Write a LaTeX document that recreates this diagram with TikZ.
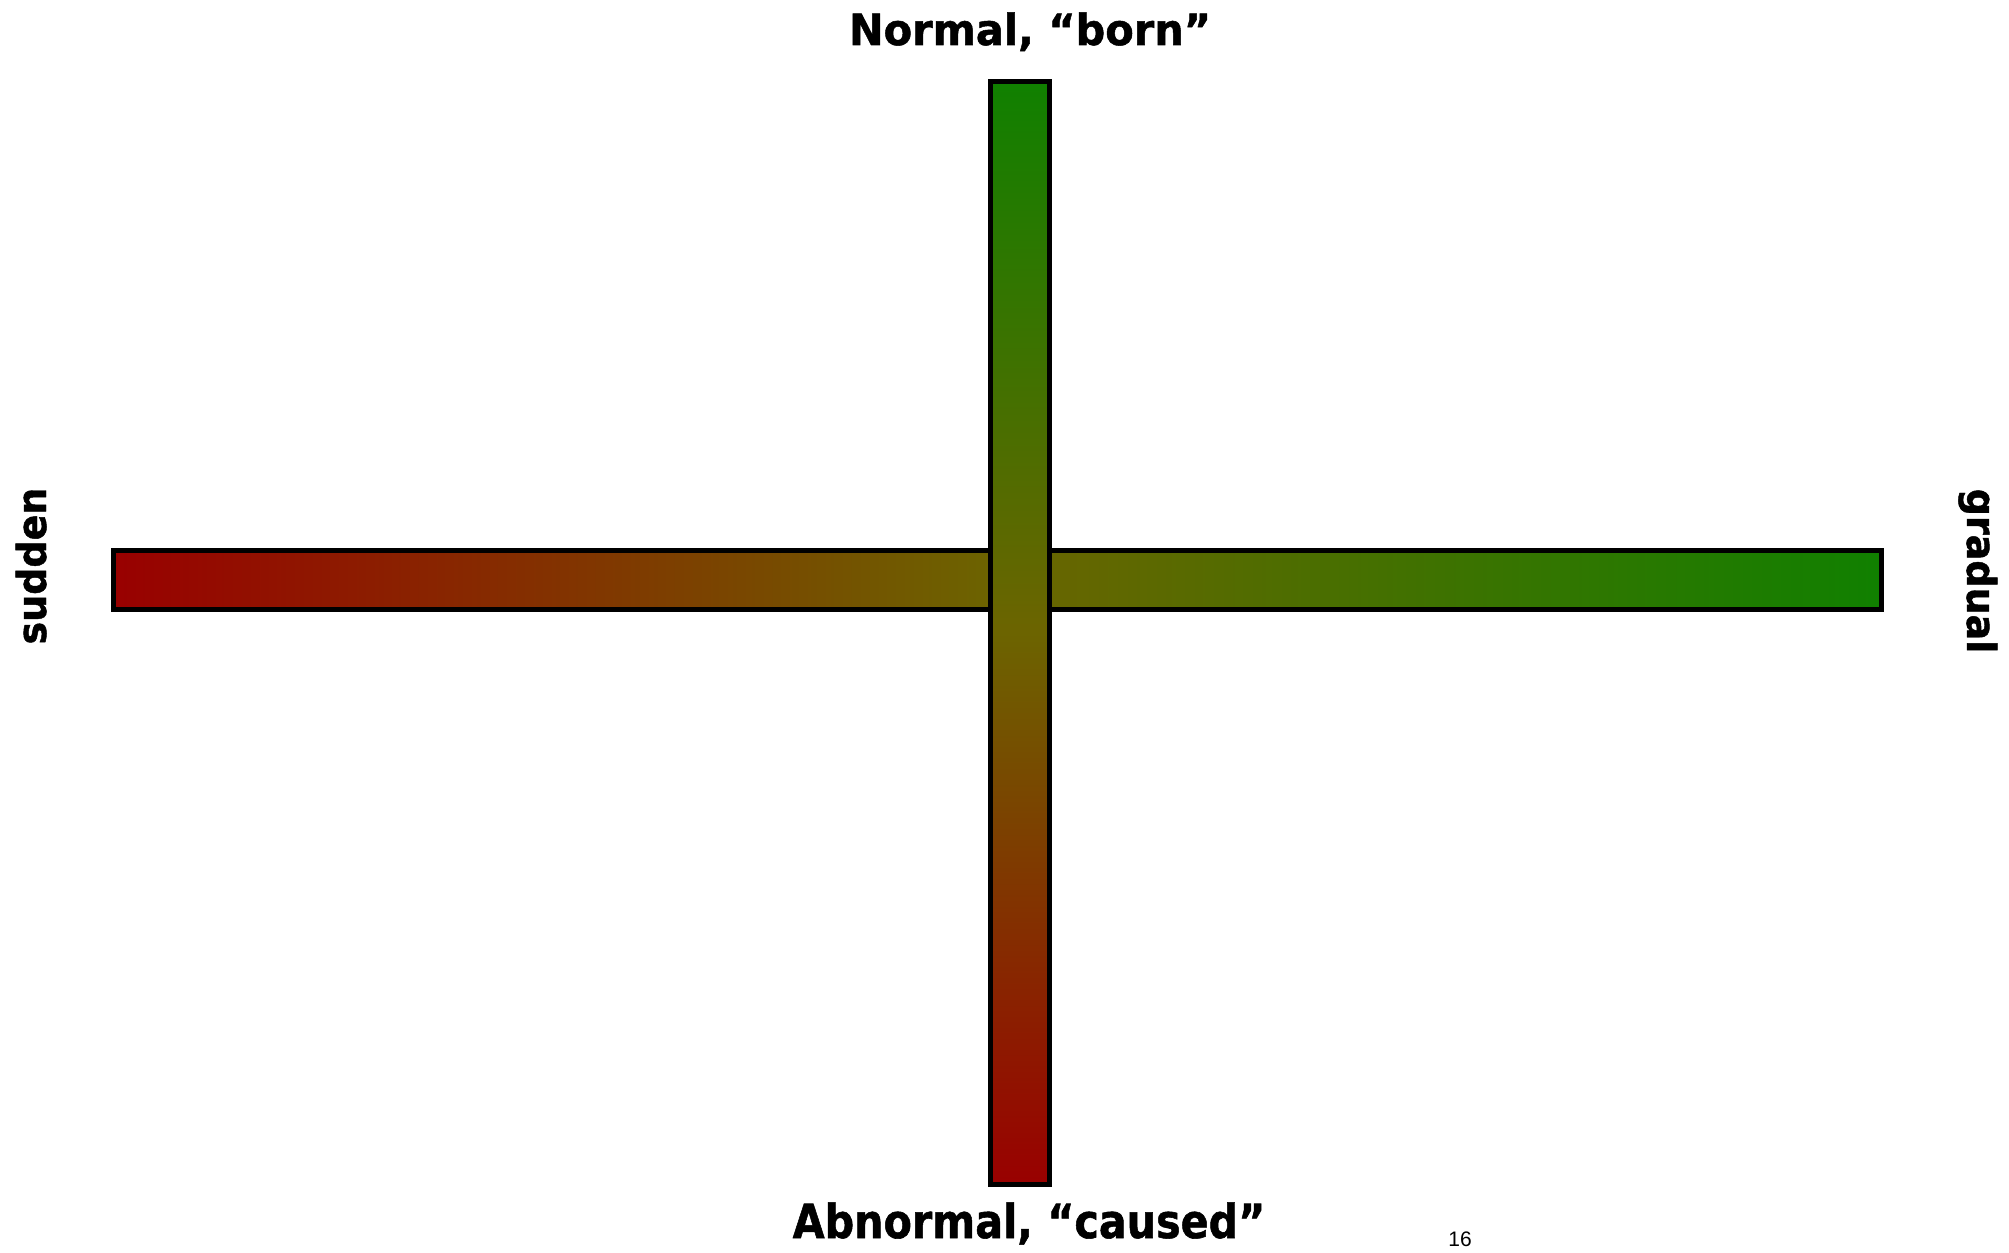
\documentclass[tikz,border=0pt]{standalone}
\usepackage{fontspec}
\setmainfont{DejaVu Sans}
\newfontfamily\heavyfont{DejaVu Sans Bold}[FakeBold=1.2]
\newfontfamily\numfont{Liberation Sans}
\definecolor{gred}{RGB}{153,0,0}
\definecolor{gmid}{RGB}{108,100,0}
\definecolor{ggreen}{RGB}{16,128,0}
\tikzset{
  bar/.style={draw=black, line width=5pt, inner sep=0pt, outer sep=0pt, rectangle},
  lbl/.style={inner sep=0pt, anchor=base},
}
\begin{document}
\begin{tikzpicture}[x=1pt,y=-1pt]
\useasboundingbox (0,0) rectangle (2009,1252);
\fill[white] (0,0) rectangle (2009,1252);
\node[bar, minimum width=1768pt, minimum height=59pt,
      left color=gred, right color=ggreen, middle color=gmid] (hbar) at (997.5,580) {};
\node[bar, minimum width=59pt, minimum height=1103pt,
      top color=ggreen, bottom color=gred, middle color=gmid] (vbar) at (1020,633) {};
\node[lbl, font=\heavyfont\fontsize{43}{43}\selectfont] (top) at (1030,45) {\scalebox{0.965}[1]{Normal, “born”}};
\node[lbl, font=\heavyfont\fontsize{47}{47}\selectfont] (bot) at (1029,1238) {\scalebox{0.878}[1]{Abnormal, “caused”}};
\node[lbl, rotate=90, font=\heavyfont\fontsize{40}{40}\selectfont] (left) at (46,566) {\scalebox{0.95}[1]{sudden}};
\node[lbl, rotate=-90, font=\heavyfont\fontsize{40}{40}\selectfont] (right) at (1967,571) {\scalebox{0.95}[1]{gradual}};
\node[anchor=base, inner sep=0pt, font=\numfont\fontsize{21}{21}\selectfont] (pg) at (1460,1246) {16};
\end{tikzpicture}
\end{document}
